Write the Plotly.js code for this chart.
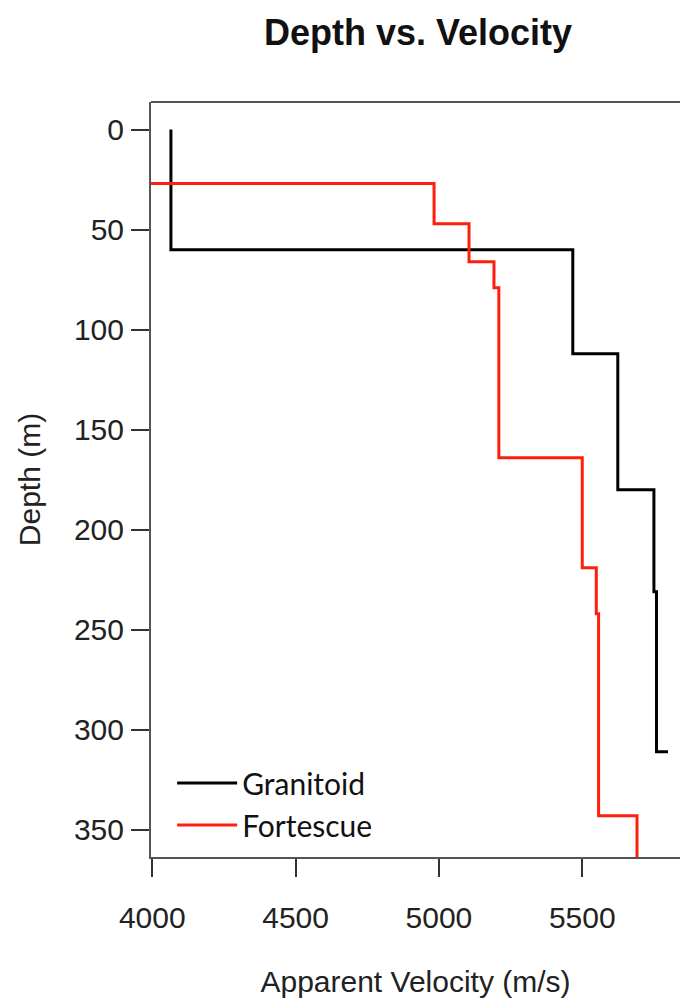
<!DOCTYPE html>
<html>
<head>
<meta charset="utf-8">
<script src="https://cdn.plot.ly/plotly-3.0.1.min.js"></script>
<style>
  html, body { margin: 0; padding: 0; background: #ffffff; }
  #chart { width: 680px; height: 1004px; }
</style>
</head>
<body>
<div id="chart"></div>
<script>
// Granitoid layer model: velocity (m/s) of each layer and depth (m) at which it starts
var granitoidVelocity = [4065, 5467, 5624, 5750, 5759, 5799];
var granitoidDepth    = [0,    60,   112,  180,  231,  311];

// Fortescue layer model
var fortescueVelocity = [3900, 4983, 5105, 5192, 5209, 5500, 5549, 5557, 5691, 5691];
var fortescueDepth    = [0,    27,   47,   66,   79,   164,  219,  242,  343,  380];

var seriesNames = ["Granitoid", "Fortescue"];
var xTicks = [4000, 4500, 5000, 5500];
var yTicks = [0, 50, 100, 150, 200, 250, 300, 350];

var axisFont = {family: "Liberation Sans, Arial, sans-serif", size: 30, color: "#222222"};

var traces = [
  {
    x: granitoidVelocity, y: granitoidDepth, name: seriesNames[0],
    type: "scatter", mode: "lines",
    line: {color: "#000000", width: 3, shape: "vh"}
  },
  {
    x: fortescueVelocity, y: fortescueDepth, name: seriesNames[1],
    type: "scatter", mode: "lines",
    line: {color: "#ff1f0f", width: 3, shape: "vh"}
  }
];

var layout = {
  width: 680, height: 1004,
  margin: {l: 151, r: 0, t: 102, b: 147, pad: 0},
  paper_bgcolor: "#ffffff", plot_bgcolor: "#ffffff",
  showlegend: true,
  title: {
    text: "<b>Depth vs. Velocity</b>",
    font: {family: "Liberation Sans, Arial, sans-serif", size: 36, color: "#111111"},
    xref: "container", yref: "container",
    x: 418 / 680, xanchor: "center",
    y: 1 - 32 / 1004, yanchor: "middle"
  },
  xaxis: {
    range: [3995.5, 5841],
    tickvals: xTicks, ticktext: xTicks.map(String),
    ticks: "outside", ticklen: 18, tickwidth: 2, tickcolor: "#333333",
    showline: true, linecolor: "#555555", linewidth: 2, mirror: false,
    showgrid: false, zeroline: false,
    tickfont: axisFont,
    ticklabelstandoff: 15,
    title: {text: "Apparent Velocity (m/s)", font: axisFont, standoff: 38},
    automargin: false
  },
  yaxis: {
    range: [363.6, -13.8],
    tickvals: yTicks, ticktext: yTicks.map(String),
    ticks: "outside", ticklen: 18, tickwidth: 2, tickcolor: "#333333",
    showline: true, linecolor: "#555555", linewidth: 2, mirror: false,
    showgrid: false, zeroline: false,
    tickfont: axisFont,
    ticklabelstandoff: 1,
    title: {text: "Depth (m)", font: axisFont, standoff: 24},
    automargin: false
  },
  shapes: [
    {type: "line", xref: "paper", yref: "paper", x0: 0, x1: 1, y0: 1, y1: 1,
     line: {color: "#555555", width: 2}}
  ],
  legend: {
    x: 0.04, y: 0.008, xanchor: "left", yanchor: "bottom",
    bgcolor: "rgba(0,0,0,0)", borderwidth: 0,
    font: {family: "Lato, Carlito, sans-serif", size: 30, color: "#111111"},
    itemwidth: 60,
    traceorder: "normal"
  }
};

Plotly.newPlot("chart", traces, layout, {displayModeBar: false, staticPlot: true});
</script>
</body>
</html>
